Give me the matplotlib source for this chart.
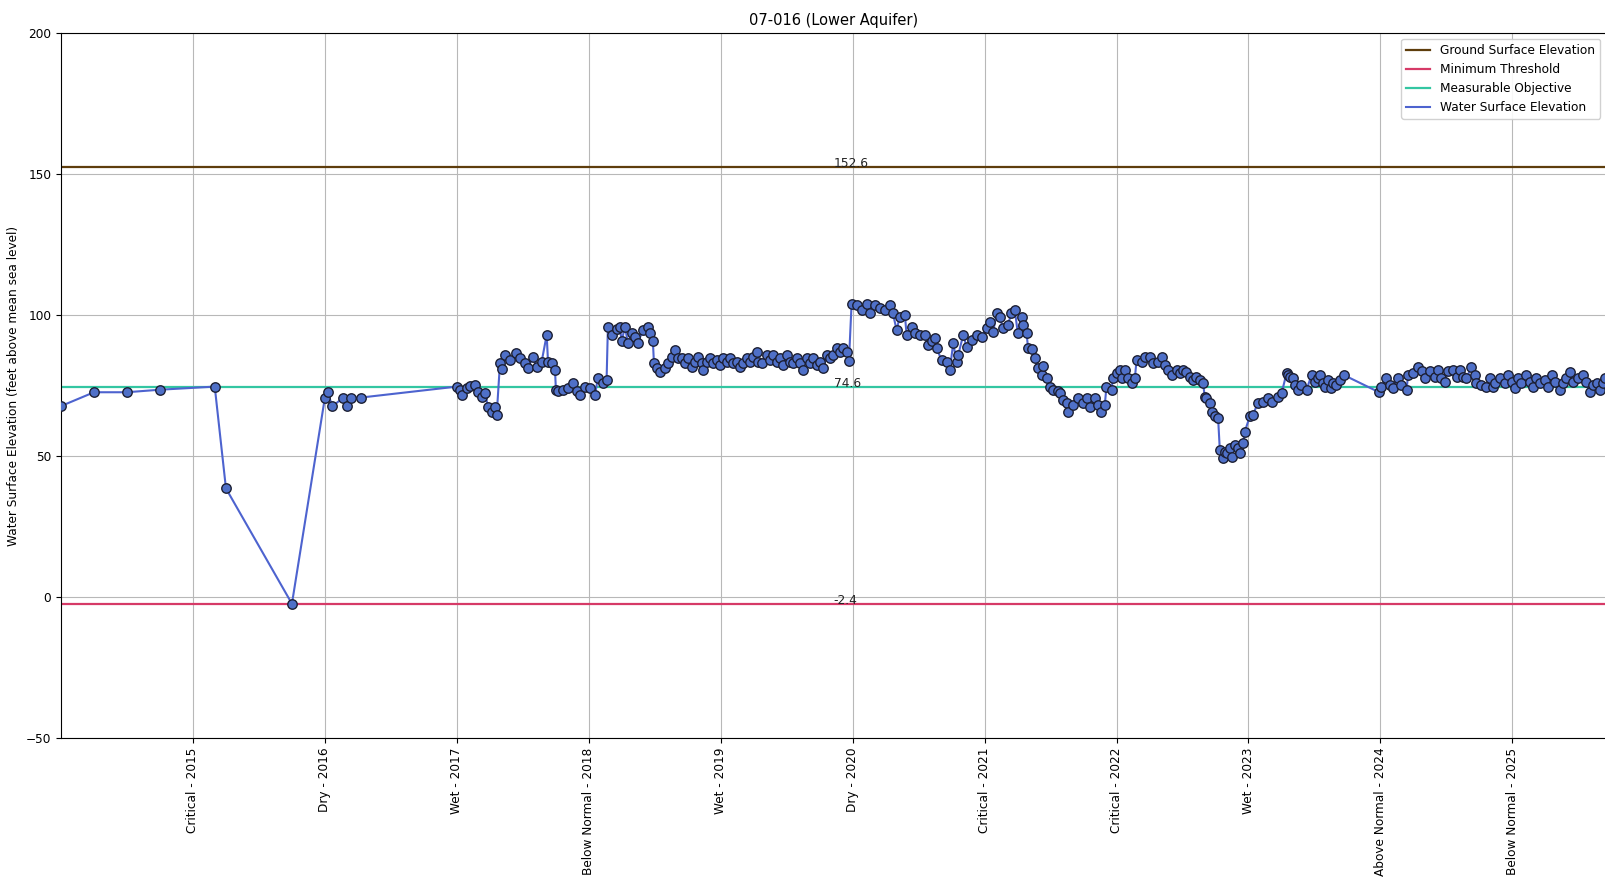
import matplotlib
matplotlib.use("Agg")
import matplotlib.pyplot as plt
import matplotlib.transforms as mtransforms

# Well 07-016 (Lower Aquifer): water surface elevation readings (decimal year, ft above MSL)
years = [
    2014.000, 2014.250, 2014.498, 2014.750, 2015.165, 2015.250, 2015.750,
    2016.000, 2016.020, 2016.056, 2016.140, 2016.165, 2016.200, 2016.270,
    2016.999, 2017.024, 2017.036, 2017.074, 2017.099, 2017.137, 2017.160,
    2017.188, 2017.213, 2017.236, 2017.264, 2017.289, 2017.302, 2017.327,
    2017.340, 2017.365, 2017.403, 2017.448, 2017.478, 2017.516, 2017.539,
    2017.577, 2017.605, 2017.643, 2017.681, 2017.691, 2017.719, 2017.744,
    2017.751, 2017.766, 2017.804, 2017.842, 2017.880, 2017.908, 2017.933,
    2017.971, 2018.009, 2018.047, 2018.069, 2018.107, 2018.135, 2018.145,
    2018.173, 2018.211, 2018.236, 2018.249, 2018.274, 2018.297, 2018.325,
    2018.350, 2018.372, 2018.410, 2018.448, 2018.463, 2018.486, 2018.494,
    2018.514, 2018.539, 2018.577, 2018.600, 2018.628, 2018.653, 2018.676,
    2018.704, 2018.729, 2018.754, 2018.780, 2018.804, 2018.830, 2018.855,
    2018.867, 2018.893, 2018.918, 2018.943, 2018.969, 2018.994, 2019.019,
    2019.045, 2019.070, 2019.095, 2019.121, 2019.146, 2019.171, 2019.196,
    2019.221, 2019.246, 2019.272, 2019.284, 2019.310, 2019.348, 2019.373,
    2019.398, 2019.424, 2019.449, 2019.474, 2019.499, 2019.524, 2019.549,
    2019.575, 2019.600, 2019.625, 2019.651, 2019.676, 2019.701, 2019.727,
    2019.752, 2019.777, 2019.803, 2019.828, 2019.852, 2019.878, 2019.903,
    2019.928, 2019.954, 2019.972, 2019.992, 2020.030, 2020.068, 2020.106,
    2020.131, 2020.169, 2020.206, 2020.244, 2020.282, 2020.305, 2020.333,
    2020.358, 2020.396, 2020.409, 2020.447, 2020.472, 2020.510, 2020.548,
    2020.570, 2020.598, 2020.623, 2020.636, 2020.674, 2020.712, 2020.737,
    2020.762, 2020.788, 2020.800, 2020.838, 2020.863, 2020.901, 2020.939,
    2020.977, 2021.015, 2021.040, 2021.065, 2021.091, 2021.116, 2021.138,
    2021.176, 2021.204, 2021.229, 2021.252, 2021.280, 2021.290, 2021.318,
    2021.330, 2021.356, 2021.381, 2021.404, 2021.432, 2021.442, 2021.470,
    2021.495, 2021.517, 2021.555, 2021.570, 2021.596, 2021.621, 2021.633,
    2021.669, 2021.707, 2021.745, 2021.773, 2021.798, 2021.836, 2021.861,
    2021.886, 2021.911, 2021.924, 2021.962, 2021.972, 2022.000, 2022.025,
    2022.038, 2022.063, 2022.088, 2022.114, 2022.139, 2022.152, 2022.190,
    2022.215, 2022.253, 2022.278, 2022.315, 2022.341, 2022.366, 2022.391,
    2022.417, 2022.455, 2022.480, 2022.505, 2022.530, 2022.556, 2022.581,
    2022.606, 2022.631, 2022.656, 2022.669, 2022.681, 2022.707, 2022.720,
    2022.745, 2022.770, 2022.783, 2022.806, 2022.821, 2022.834, 2022.859,
    2022.872, 2022.896, 2022.922, 2022.934, 2022.960, 2022.972, 2023.010,
    2023.035, 2023.071, 2023.111, 2023.149, 2023.179, 2023.225, 2023.251,
    2023.289, 2023.301, 2023.314, 2023.339, 2023.352, 2023.377, 2023.402,
    2023.440, 2023.478, 2023.503, 2023.528, 2023.541, 2023.566, 2023.579,
    2023.604, 2023.629, 2023.641, 2023.667, 2023.692, 2023.723, 2023.990,
    2024.008, 2024.046, 2024.071, 2024.096, 2024.134, 2024.160, 2024.198,
    2024.210, 2024.248, 2024.286, 2024.312, 2024.337, 2024.375, 2024.412,
    2024.437, 2024.463, 2024.488, 2024.513, 2024.551, 2024.577, 2024.602,
    2024.627, 2024.652, 2024.690, 2024.715, 2024.728, 2024.766, 2024.804,
    2024.829, 2024.854, 2024.867, 2024.905, 2024.943, 2024.968, 2024.994,
    2025.019, 2025.044, 2025.069, 2025.107, 2025.132, 2025.157, 2025.183,
    2025.208, 2025.246, 2025.271, 2025.297, 2025.322, 2025.360, 2025.385,
    2025.410, 2025.435, 2025.461, 2025.498, 2025.536, 2025.562, 2025.587,
    2025.612, 2025.638, 2025.662, 2025.688, 2025.706,
]
elevation = [
    67.7, 72.6, 72.6, 73.5, 74.6, 38.5, -2.4,
    70.7, 72.7, 67.6, 70.7, 67.6, 70.7, 70.7,
    74.6, 73.4, 71.6, 74.1, 74.8, 75.0, 72.7,
    71.0, 72.3, 67.5, 65.7, 67.5, 64.5, 82.9,
    80.9, 85.8, 84.0, 86.6, 84.7, 82.9, 81.2,
    85.0, 81.7, 83.5, 92.9, 83.5, 82.9, 80.5,
    73.4, 73.0, 73.4, 74.1, 75.9, 73.0, 71.6,
    74.3, 74.0, 71.6, 77.6, 75.9, 76.9, 95.9,
    92.9, 95.2, 95.9, 90.6, 95.9, 90.0, 93.6,
    92.3, 90.0, 94.7, 95.9, 93.6, 90.6, 82.9,
    81.2, 79.9, 81.2, 82.9, 85.2, 87.6, 84.7,
    84.6, 82.9, 84.6, 81.7, 83.5, 85.2, 82.9,
    80.5, 83.5, 84.6, 82.9, 84.0, 82.3, 84.6,
    83.5, 84.6, 82.9, 83.5, 81.7, 82.9, 84.6,
    83.5, 85.2, 87.0, 83.5, 82.9, 85.8, 84.0,
    85.8, 83.5, 84.6, 82.3, 85.8, 83.5, 82.9,
    84.6, 82.9, 80.5, 84.6, 82.9, 84.6, 82.3,
    83.5, 81.1, 85.8, 84.6, 85.8, 88.2, 87.0,
    88.2, 87.0, 83.8, 104.0, 103.5, 101.8, 104.0,
    100.6, 103.5, 102.5, 101.8, 103.5, 100.6, 94.7,
    99.4, 100.0, 92.9, 95.9, 93.5, 92.9, 92.9,
    89.4, 90.6, 91.7, 88.2, 84.0, 83.5, 80.5,
    90.0, 83.5, 85.8, 92.9, 88.8, 91.1, 92.9,
    92.3, 95.3, 97.6, 94.1, 100.6, 99.4, 95.3,
    96.5, 100.6, 101.8, 93.5, 99.4, 96.5, 93.5,
    88.2, 88.0, 84.6, 81.1, 78.7, 81.8, 77.6,
    74.6, 73.4, 72.9, 72.2, 69.9, 68.7, 65.7,
    68.1, 70.4, 68.7, 70.4, 67.5, 70.4, 68.1,
    65.7, 68.1, 74.6, 73.4, 77.6, 79.4, 80.5,
    77.6, 80.5, 77.6, 75.8, 77.6, 84.0, 83.5,
    85.2, 85.2, 82.9, 83.5, 85.2, 82.3, 80.5,
    78.7, 80.5, 79.4, 80.5, 79.9, 78.1, 77.0,
    78.1, 77.0, 75.8, 71.0, 70.4, 68.7, 65.7,
    64.0, 63.4, 52.1, 49.2, 51.5, 50.9, 52.7,
    49.8, 53.9, 52.7, 51.2, 54.5, 58.6, 64.0,
    64.7, 68.7, 69.3, 70.4, 69.3, 71.0, 72.2,
    79.4, 78.7, 78.1, 77.5, 75.2, 73.4, 75.2,
    73.4, 78.7, 76.4, 77.5, 78.7, 75.8, 74.6,
    77.0, 74.0, 75.8, 75.2, 77.0, 78.7, 72.6,
    74.6, 77.5, 75.2, 74.0, 77.5, 75.2, 73.4,
    78.7, 79.4, 81.7, 80.0, 77.5, 80.0, 78.1,
    80.5, 77.5, 76.4, 80.0, 80.5, 78.1, 80.5,
    78.1, 77.5, 81.7, 78.7, 75.8, 75.2, 74.6,
    77.5, 74.6, 75.8, 77.6, 75.8, 78.7, 76.4,
    74.0, 77.6, 75.8, 78.7, 76.4, 74.6, 77.6,
    75.8, 77.0, 74.6, 78.7, 76.4, 73.4, 75.8,
    77.6, 79.9, 76.4, 77.6, 78.7, 76.4, 72.8,
    75.2, 75.8, 73.4, 75.8, 77.6,
]

# Reference elevations for the well
ground_surface = 152.6
minimum_threshold = -2.4
measurable_objective = 74.6

# Water-year type labels for the x ticks
tick_years = [2015, 2016, 2017, 2018, 2019, 2020, 2021, 2022, 2023, 2024, 2025]
tick_labels = [
    "Critical - 2015", "Dry - 2016", "Wet - 2017", "Below Normal - 2018",
    "Wet - 2019", "Dry - 2020", "Critical - 2021", "Critical - 2022",
    "Wet - 2023", "Above Normal - 2024", "Below Normal - 2025",
]

fig = plt.figure(figsize=(16.06, 8.82), dpi=100)
ax = fig.add_axes([0.038, 0.1633, 0.962, 0.7993])

ax.axhline(ground_surface, color="#5e3d0c", linewidth=1.6, label="Ground Surface Elevation")
ax.axhline(minimum_threshold, color="#d63a67", linewidth=1.6, label="Minimum Threshold")
ax.axhline(measurable_objective, color="#33c6a2", linewidth=1.6, label="Measurable Objective")
ax.plot(years, elevation, color="#4d63cf", linewidth=1.5, label="Water Surface Elevation", zorder=3)
ax.plot(years, elevation, linestyle="none", marker="o", markersize=6.8,
        markerfacecolor="#4f70c8", markeredgecolor="#1c1f33", markeredgewidth=1.0, zorder=4)

trans = mtransforms.blended_transform_factory(ax.transAxes, ax.transData)
for val in (ground_surface, measurable_objective, minimum_threshold):
    ax.text(0.5, val, f"{val}", transform=trans, fontsize=8.8, color="#222222", zorder=5)

ax.set_xlim(2014.0, 2025.71)
ax.set_ylim(-50, 200)
ax.set_yticks([-50, 0, 50, 100, 150, 200])
ax.set_xticks(tick_years)
ax.set_xticklabels(tick_labels, rotation=90, fontsize=8.7)
ax.tick_params(axis="y", labelsize=8.7)
ax.grid(True, color="#b8b8b8", linewidth=0.8)
ax.set_axisbelow(True)

ax.set_title("07-016 (Lower Aquifer)", fontsize=10.5)
ax.set_ylabel("Water Surface Elevation (feet above mean sea level)", fontsize=8.7)
ax.legend(loc="upper right", fontsize=8.7, framealpha=0.9)

fig.savefig("out.png", dpi=100)
